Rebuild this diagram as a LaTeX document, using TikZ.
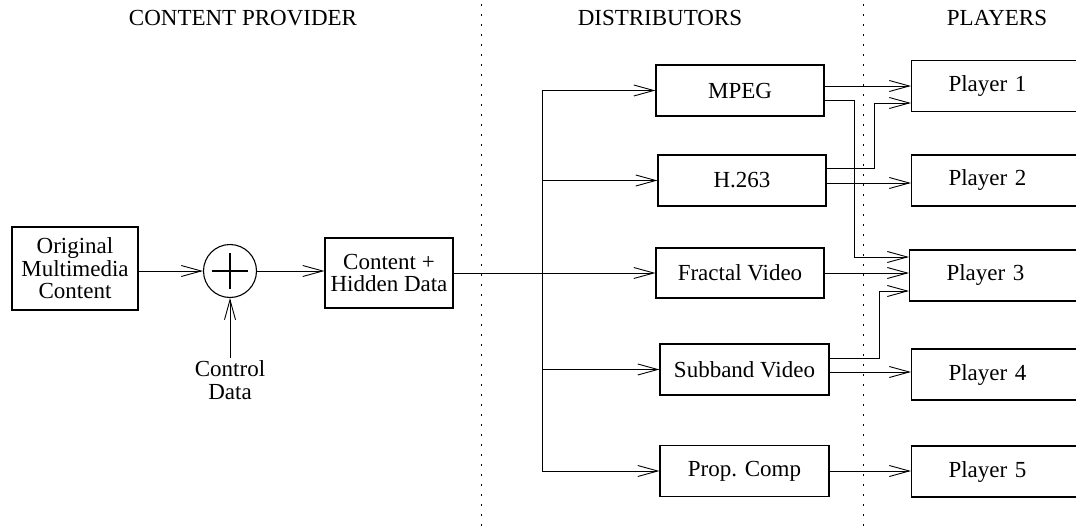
\documentclass[tikz,border=0pt]{standalone}
\usepackage{fontspec}
\setmainfont{Liberation Serif}
\usetikzlibrary{arrows.meta}

\begin{document}
\begin{tikzpicture}[x=1pt,y=-1pt,
  font=\fontsize{23pt}{22.5pt}\selectfont,
  box/.style={draw,line width=1.1pt,inner sep=0pt,align=center},
  distbox/.style={box,minimum width=168pt,minimum height=51pt},
  player/.style={draw,line width=1.1pt,anchor=west,minimum height=51pt,
    text width=200pt,inner xsep=0pt,align=left,
    execute at begin node=\hspace*{37pt}},
  arr/.style={line width=0.9pt,-{Straight Barb[length=20pt,width=11pt]}},
  wire/.style={line width=0.9pt},
  divider/.style={line width=1pt,dash pattern=on 2pt off 8pt},
  heading/.style={inner sep=0pt}]

\useasboundingbox (0,0) rectangle (1076,527);
\clip (0,0) rectangle (1076,527);

% column headings and separators
\node[heading] (hprov) at (243,18) {CONTENT PROVIDER};
\node[heading] (hdist) at (660,18) {DISTRIBUTORS};
\node[heading] (hplay) at (997,18) {PLAYERS};
\draw[divider] (481,4) -- (481,527);
\draw[divider] (863,4) -- (863,527);

% content provider
\node[box,minimum width=126pt,minimum height=83pt] (orig) at (75,268.5)
  {Original\\Multimedia\\Content};
\node[circle,draw,line width=1.1pt,minimum size=53pt,inner sep=0pt] (sum) at (230,271) {};
\draw[line width=2.6pt] ([xshift=-18pt]sum.center) -- ([xshift=18pt]sum.center);
\draw[line width=2.6pt] ([yshift=-18pt]sum.center) -- ([yshift=18pt]sum.center);
\node[align=center,inner sep=2pt] (ctrl) at (230,380) {Control\\Data};
\node[box,minimum width=128pt,minimum height=70pt] (content) at (389,273)
  {Content +\\Hidden Data};

% distributors
\node[distbox] (mpeg) at (740,90.5) {MPEG};
\node[distbox] (h263) at (742,180.5) {H.263};
\node[distbox,minimum height=50pt] (fractal) at (740,273) {Fractal Video};
\node[distbox,minimum width=169pt] (subband) at (744.5,369.5) {Subband Video};
\node[distbox,minimum width=169pt] (prop) at (744.5,471) {Prop. Comp};

% players (boxes run off the right edge)
\node[player] (p1) at (911,86) {Player 1};
\node[player] (p2) at (911,180.5) {Player 2};
\node[player] (p3) at (909,275.5) {Player 3};
\node[player] (p4) at (911,374.5) {Player 4};
\node[player] (p5) at (911,471.5) {Player 5};

% provider chain
\draw[arr] (orig.east |- sum) -- (sum.west);
\draw[arr] (sum.east) -- (content.west |- sum);
\draw[arr] (ctrl.north) -- (sum.south);

% distribution bus
\path (542,0) coordinate (busx);
\coordinate (bustop) at (busx |- mpeg.west);
\coordinate (busbot) at (busx |- prop.west);
\draw[wire] (bustop) -- (busbot);
\draw[arr] (content.east) -- (fractal.west);
\draw[arr] (bustop) -- (mpeg.west);
\draw[arr] (busx |- h263.west) -- (h263.west);
\draw[arr] (busx |- subband.west) -- (subband.west);
\draw[arr] (busbot) -- (prop.west);

% distributor to player links
\draw[arr] (mpeg.east |- p1.west) -- (p1.west);
\draw[arr] ([yshift=-9.5pt]mpeg.east) -| ([xshift=-55pt,yshift=18.5pt]p3.west)
  -- ([yshift=18.5pt]p3.west);
\draw[arr] ([yshift=12.5pt]h263.east) -| ([xshift=-37pt,yshift=-17pt]p1.west)
  -- ([yshift=-17pt]p1.west);
\draw[arr] ([yshift=-2.5pt]h263.east) -- ([yshift=-2.5pt]h263.east -| p2.west);
\draw[arr] (fractal.east) -- (fractal.east -| p3.west);
\draw[arr] ([yshift=11.5pt]subband.east) -| ([xshift=-30pt,yshift=-15.5pt]p3.west)
  -- ([yshift=-15.5pt]p3.west);
\draw[arr] ([yshift=-2.5pt]subband.east) -- ([yshift=-2.5pt]subband.east -| p4.west);
\draw[arr] (prop.east) -- (prop.east -| p5.west);
\end{tikzpicture}
\end{document}
